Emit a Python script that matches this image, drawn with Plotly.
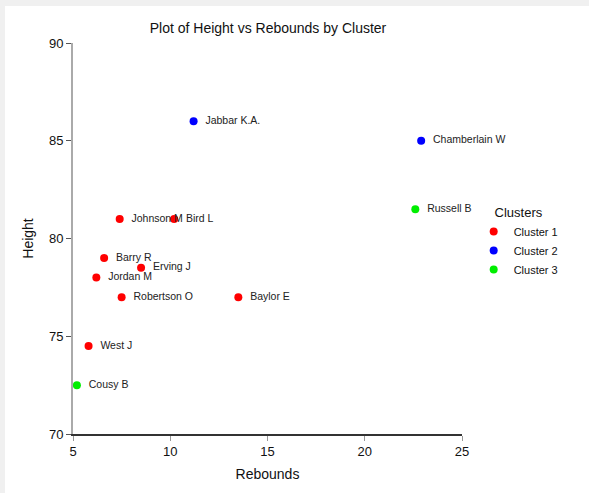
import plotly.graph_objects as go

players = ["Jabbar K.A.", "Chamberlain W", "Russell B", "Johnson M", "Bird L",
           "Barry R", "Erving J", "Jordan M", "Robertson O", "Baylor E",
           "West J", "Cousy B"]
rebounds = [11.2, 22.9, 22.6, 7.4, 10.2, 6.6, 8.5, 6.2, 7.5, 13.5, 5.8, 5.2]
heights = [86, 85, 81.5, 81, 81, 79, 78.5, 78, 77, 77, 74.5, 72.5]
clusters = [2, 2, 3, 1, 1, 1, 1, 1, 1, 1, 1, 3]

cluster_names = ["Cluster 1", "Cluster 2", "Cluster 3"]
cluster_colors = ["#ff0000", "#0000ff", "#00ee00"]

x_ticks = [5, 10, 15, 20, 25]
y_ticks = [70, 75, 80, 85, 90]

fig = go.Figure()
for ci, (cname, ccol) in enumerate(zip(cluster_names, cluster_colors), start=1):
    idx = [i for i, c in enumerate(clusters) if c == ci]
    fig.add_trace(go.Scatter(
        x=[rebounds[i] for i in idx],
        y=[heights[i] for i in idx],
        text=["  " + players[i] for i in idx],
        mode="markers+text",
        textposition="middle right",
        textfont=dict(size=10.5, color="#222222"),
        marker=dict(size=8, color=ccol),
        name=cname,
        cliponaxis=False,
    ))

fig.add_shape(type="rect", xref="paper", yref="paper",
              x0=(5 - 73) / 389, x1=(589 - 73) / 389,
              y0=(434 - 493) / 391, y1=(434 - 6) / 391,
              fillcolor="white", line=dict(width=0), layer="below")

fig.update_layout(
    width=589, height=493,
    paper_bgcolor="#f0f0f0",
    plot_bgcolor="rgba(0,0,0,0)",
    margin=dict(l=73, r=127, t=43, b=59),
    font=dict(family="Liberation Sans, Arial, sans-serif", color="#111111"),
    title=dict(text="Plot of Height vs Rebounds by Cluster", x=268 / 589, xanchor="center",
               y=1 - 28 / 493, yanchor="middle", font=dict(size=14)),
    xaxis=dict(range=[5, 25], tickvals=x_ticks, ticks="outside", ticklen=5,
               tickcolor="#999999", showline=True, linecolor="#333333", linewidth=1.5,
               showgrid=False, zeroline=False, tickfont=dict(size=13),
               title=dict(text="Rebounds", font=dict(size=14), standoff=11)),
    yaxis=dict(range=[70, 90], tickvals=y_ticks, ticks="outside", ticklen=5,
               tickcolor="#555555", showline=True, linecolor="#aaaaaa", linewidth=2,
               showgrid=False, zeroline=False, tickfont=dict(size=13),
               title=dict(text="Height", font=dict(size=14), standoff=12)),
    legend=dict(x=1.03, y=(434 - 200) / 391, xanchor="left", yanchor="top",
                bgcolor="rgba(0,0,0,0)", font=dict(size=11), tracegroupgap=0,
                title=dict(text="Clusters", font=dict(size=13), side="top center"),
                itemwidth=30),
)

fig.write_html("out.html", config={"displayModeBar": False},
               post_script="document.body.style.margin='0';document.body.style.background='#f0f0f0';")
